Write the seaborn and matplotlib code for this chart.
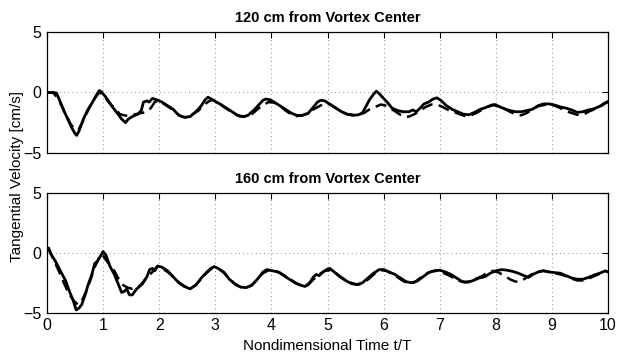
import numpy as np
import pandas as pd
import matplotlib
matplotlib.use("Agg")
import matplotlib.pyplot as plt
import seaborn as sns

# ---- measured (solid) and model (dashed) tangential velocity, 120 cm ----
t_120_meas = [0.00, 0.10, 0.17, 0.22, 0.30, 0.38, 0.45, 0.50, 0.53, 0.57, 0.65, 0.72, 0.80, 0.86, 0.93,
              0.97, 1.05, 1.15, 1.25, 1.33, 1.40, 1.45, 1.52, 1.62, 1.68, 1.72, 1.78, 1.82, 1.88, 1.95,
              2.05, 2.15, 2.25, 2.35, 2.45, 2.55, 2.65, 2.75, 2.82, 2.87, 2.93, 3.00, 3.10, 3.20, 3.30,
              3.40, 3.50, 3.58, 3.68, 3.78, 3.85, 3.90, 3.97, 4.05, 4.15, 4.25, 4.35, 4.45, 4.55, 4.65,
              4.75, 4.82, 4.88, 4.95, 5.05, 5.15, 5.25, 5.35, 5.45, 5.55, 5.62, 5.68, 5.75, 5.82, 5.87,
              5.92, 6.00, 6.08, 6.15, 6.25, 6.35, 6.45, 6.52, 6.58, 6.65, 6.72, 6.80, 6.88, 6.95, 7.03,
              7.12, 7.22, 7.32, 7.42, 7.52, 7.62, 7.72, 7.82, 7.92, 7.98, 8.05, 8.15, 8.25, 8.35, 8.45,
              8.55, 8.65, 8.75, 8.85, 8.95, 9.05, 9.15, 9.25, 9.35, 9.45, 9.55, 9.65, 9.75, 9.85, 9.95,
              10.0]
v_120_meas = [0.00, 0.00, -0.05, -0.60, -1.50, -2.30, -3.00, -3.40, -3.55, -3.20, -2.20, -1.50, -0.90, -0.40, 0.15,
              0.05, -0.40, -1.10, -1.70, -2.20, -2.50, -2.20, -2.00, -1.80, -1.50, -0.80, -0.70, -0.80, -0.50, -0.60,
              -0.80, -1.10, -1.40, -1.90, -2.05, -2.00, -1.60, -1.10, -0.60, -0.40, -0.55, -0.75, -1.00, -1.30, -1.60,
              -1.90, -2.00, -1.90, -1.50, -1.00, -0.65, -0.55, -0.60, -0.80, -1.10, -1.40, -1.70, -1.90, -1.90, -1.75,
              -1.20, -0.80, -0.65, -0.70, -1.00, -1.30, -1.60, -1.80, -1.90, -1.85, -1.70, -1.20, -0.60, -0.15, 0.10,
              -0.10, -0.50, -0.90, -1.30, -1.50, -1.60, -1.60, -1.45, -1.60, -1.30, -0.95, -0.80, -0.55, -0.45, -0.70,
              -1.10, -1.40, -1.60, -1.80, -1.85, -1.65, -1.40, -1.25, -1.05, -1.00, -1.15, -1.35, -1.50, -1.60, -1.60,
              -1.50, -1.40, -1.10, -0.95, -0.95, -1.05, -1.20, -1.30, -1.45, -1.65, -1.60, -1.45, -1.35, -1.15, -0.85,
              -0.75]

t_120_model = [0.00, 0.12, 0.22, 0.32, 0.42, 0.50, 0.56, 0.65, 0.75, 0.85, 0.93, 1.00, 1.10, 1.20, 1.30,
               1.38, 1.48, 1.58, 1.68, 1.78, 1.85, 1.92, 2.00, 2.10, 2.20, 2.30, 2.40, 2.50, 2.60, 2.70,
               2.78, 2.88, 2.95, 3.05, 3.15, 3.25, 3.35, 3.45, 3.55, 3.65, 3.75, 3.85, 3.95, 4.05, 4.15,
               4.25, 4.35, 4.45, 4.55, 4.65, 4.75, 4.85, 4.95, 5.05, 5.15, 5.25, 5.35, 5.45, 5.55, 5.65,
               5.75, 5.85, 5.95, 6.05, 6.15, 6.25, 6.35, 6.45, 6.55, 6.65, 6.75, 6.85, 6.95, 7.05, 7.15,
               7.25, 7.35, 7.45, 7.55, 7.65, 7.75, 7.85, 7.95, 8.05, 8.15, 8.25, 8.35, 8.45, 8.55, 8.65,
               8.75, 8.85, 8.95, 9.05, 9.15, 9.25, 9.35, 9.45, 9.55, 9.65, 9.75, 9.85, 9.95, 10.0]
v_120_model = [0.00, -0.05, -0.70, -1.70, -2.60, -3.10, -3.10, -2.30, -1.30, -0.50, 0.00, -0.20, -0.80, -1.30, -1.80,
               -1.90, -1.95, -1.80, -1.70, -1.60, -1.30, -0.80, -0.70, -1.00, -1.30, -1.70, -2.00, -2.10, -1.80, -1.50,
               -1.10, -0.75, -0.60, -0.85, -1.20, -1.50, -1.80, -2.00, -2.00, -1.80, -1.40, -1.05, -0.80, -0.85, -1.10,
               -1.50, -1.80, -1.95, -1.90, -1.70, -1.40, -1.15, -0.90, -1.00, -1.30, -1.60, -1.80, -1.85, -1.85, -1.70,
               -1.40, -1.20, -1.00, -1.10, -1.40, -1.70, -2.00, -2.00, -1.80, -1.50, -1.20, -1.00, -1.00, -1.20, -1.45,
               -1.60, -1.80, -1.95, -1.90, -1.70, -1.45, -1.20, -1.05, -1.15, -1.35, -1.60, -1.80, -1.90, -1.70, -1.40,
               -1.15, -1.05, -0.95, -1.10, -1.30, -1.55, -1.70, -1.85, -1.85, -1.60, -1.40, -1.20, -0.90, -0.80]

# ---- measured (solid) and model (dashed) tangential velocity, 160 cm ----
t_160_meas = [0.00, 0.03, 0.07, 0.15, 0.25, 0.33, 0.40, 0.47, 0.52, 0.57, 0.62, 0.68, 0.73, 0.80, 0.85,
              0.90, 0.95, 1.00, 1.05, 1.12, 1.20, 1.27, 1.33, 1.38, 1.42, 1.47, 1.52, 1.60, 1.70, 1.78,
              1.83, 1.88, 1.92, 1.97, 2.05, 2.15, 2.25, 2.35, 2.45, 2.55, 2.65, 2.75, 2.85, 2.92, 2.98,
              3.05, 3.15, 3.25, 3.35, 3.45, 3.55, 3.65, 3.75, 3.85, 3.92, 4.02, 4.12, 4.22, 4.32, 4.42,
              4.52, 4.60, 4.68, 4.75, 4.80, 4.85, 4.92, 5.00, 5.04, 5.12, 5.22, 5.32, 5.42, 5.52, 5.62,
              5.72, 5.82, 5.92, 6.00, 6.10, 6.20, 6.30, 6.40, 6.50, 6.60, 6.70, 6.80, 6.90, 7.00, 7.10,
              7.20, 7.30, 7.40, 7.50, 7.60, 7.70, 7.80, 7.90, 8.00, 8.10, 8.20, 8.30, 8.40, 8.50, 8.58,
              8.66, 8.75, 8.85, 8.95, 9.05, 9.15, 9.25, 9.35, 9.45, 9.55, 9.65, 9.75, 9.85, 9.95, 10.0]
v_160_meas = [0.35, 0.40, -0.10, -0.70, -1.60, -2.30, -3.20, -4.00, -4.75, -4.60, -4.30, -3.50, -2.70, -1.80, -0.90,
              -0.70, -0.30, 0.10, -0.20, -1.10, -1.80, -2.60, -3.30, -3.20, -3.00, -3.50, -3.50, -3.00, -2.60, -2.00,
              -1.40, -1.30, -1.50, -1.10, -1.20, -1.50, -2.00, -2.50, -2.80, -3.00, -2.70, -2.10, -1.60, -1.30, -1.15,
              -1.30, -1.60, -2.20, -2.60, -2.85, -2.90, -2.70, -2.20, -1.60, -1.40, -1.50, -1.60, -1.90, -2.20, -2.50,
              -2.70, -2.80, -2.50, -2.00, -1.80, -1.90, -1.60, -1.35, -1.30, -1.60, -2.00, -2.30, -2.55, -2.65, -2.50,
              -2.10, -1.70, -1.40, -1.40, -1.60, -1.80, -2.10, -2.40, -2.50, -2.35, -2.00, -1.65, -1.50, -1.45, -1.60,
              -1.80, -2.10, -2.40, -2.45, -2.30, -2.10, -2.00, -1.70, -1.50, -1.40, -1.45, -1.55, -1.70, -1.90, -2.05,
              -1.80, -1.60, -1.50, -1.60, -1.65, -1.70, -1.90, -2.10, -2.20, -2.20, -2.05, -1.85, -1.70, -1.50, -1.60]

t_160_model = [0.00, 0.05, 0.12, 0.22, 0.30, 0.36, 0.42, 0.48, 0.55, 0.62, 0.70, 0.78, 0.85, 0.92, 0.98,
               1.05, 1.12, 1.20, 1.28, 1.36, 1.44, 1.52, 1.62, 1.72, 1.80, 1.86, 1.95, 2.05, 2.15, 2.25,
               2.35, 2.45, 2.55, 2.65, 2.75, 2.85, 2.95, 3.05, 3.15, 3.25, 3.35, 3.45, 3.55, 3.65, 3.75,
               3.85, 3.95, 4.05, 4.15, 4.25, 4.35, 4.45, 4.55, 4.65, 4.75, 4.85, 4.95, 5.05, 5.15, 5.25,
               5.35, 5.45, 5.55, 5.65, 5.75, 5.85, 5.95, 6.05, 6.15, 6.25, 6.35, 6.45, 6.55, 6.65, 6.75,
               6.85, 6.95, 7.05, 7.15, 7.25, 7.35, 7.45, 7.55, 7.65, 7.75, 7.85, 7.95, 8.05, 8.15, 8.25,
               8.35, 8.45, 8.55, 8.65, 8.75, 8.85, 8.95, 9.05, 9.15, 9.25, 9.35, 9.45, 9.55, 9.65, 9.75,
               9.85, 9.95, 10.0]
v_160_model = [0.30, 0.10, -0.60, -1.60, -2.50, -3.10, -3.60, -4.00, -4.30, -4.00, -3.20, -2.20, -1.20, -0.50, -0.10,
               -0.60, -1.00, -1.50, -2.20, -2.70, -2.90, -3.00, -2.90, -2.40, -1.90, -1.70, -1.20, -1.30, -1.60, -2.00,
               -2.45, -2.80, -2.95, -2.70, -2.15, -1.65, -1.25, -1.30, -1.65, -2.15, -2.60, -2.85, -2.90, -2.70, -2.20,
               -1.70, -1.45, -1.50, -1.65, -1.95, -2.25, -2.55, -2.75, -2.70, -2.20, -1.80, -1.50, -1.45, -1.70, -2.05,
               -2.35, -2.55, -2.65, -2.50, -2.10, -1.70, -1.45, -1.50, -1.75, -2.05, -2.35, -2.55, -2.45, -2.10, -1.75,
               -1.55, -1.50, -1.65, -1.85, -2.10, -2.35, -2.45, -2.35, -2.15, -1.95, -1.65, -1.50, -1.65, -1.90, -2.20,
               -2.40, -2.35, -2.05, -1.75, -1.55, -1.50, -1.60, -1.70, -1.80, -1.95, -2.15, -2.30, -2.30, -2.15, -1.95,
               -1.75, -1.55, -1.60]

panel_titles = ["120 cm from Vortex Center", "160 cm from Vortex Center"]
x_ticks = list(range(0, 11))
y_ticks = [-5, 0, 5]

sns.set_style("white")
plt.rcParams["font.family"] = ["Liberation Sans", "DejaVu Sans"]
plt.rcParams["axes.unicode_minus"] = True
plt.rcParams["text.color"] = "black"
plt.rcParams["axes.labelcolor"] = "black"
plt.rcParams["xtick.color"] = "black"
plt.rcParams["ytick.color"] = "black"

fig = plt.figure(figsize=(6.18, 3.54), dpi=100)
ax_top = fig.add_axes([0.076, 0.568, 0.908, 0.342])
ax_bot = fig.add_axes([0.076, 0.116, 0.908, 0.340])

panels = [
    (ax_top, t_120_meas, v_120_meas, t_120_model, v_120_model, panel_titles[0]),
    (ax_bot, t_160_meas, v_160_meas, t_160_model, v_160_model, panel_titles[1]),
]

for ax, tm, vm, tp, vp, title in panels:
    df_meas = pd.DataFrame({"t": tm, "v": vm})
    df_model = pd.DataFrame({"t": tp, "v": vp})
    sns.lineplot(data=df_model, x="t", y="v", ax=ax, color="black", lw=1.8,
                 linestyle=(0, (4.5, 2.5)), estimator=None, sort=False)
    sns.lineplot(data=df_meas, x="t", y="v", ax=ax, color="black", lw=2.0,
                 estimator=None, sort=False)
    ax.set_xlim(0, 10)
    ax.set_ylim(-5, 5)
    ax.set_xticks(x_ticks)
    ax.set_yticks(y_ticks)
    ax.grid(True, which="major", color="#666666", linestyle=(0, (1, 4)), linewidth=0.6)
    ax.set_axisbelow(True)
    ax.tick_params(direction="in", length=4, width=0.8, top=True, right=True,
                   labelsize=11.5, colors="black", labelcolor="black", pad=4)
    for s in ax.spines.values():
        s.set_visible(True)
        s.set_color("black")
        s.set_linewidth(0.9)
    ax.set_xlabel("")
    ax.set_ylabel("")
    ax.set_title(title, fontsize=10.5, fontweight="bold", pad=7, color="black")

ax_top.set_xticklabels([])
ax_bot.set_xticklabels([str(v) for v in x_ticks])
ax_bot.set_xlabel("Nondimensional Time t/T", fontsize=11, labelpad=4, color="black")
fig.text(0.027, 0.50, "Tangential Velocity [cm/s]", rotation=90,
         ha="center", va="center", fontsize=11, color="black")

fig.savefig("out.png", dpi=100)
